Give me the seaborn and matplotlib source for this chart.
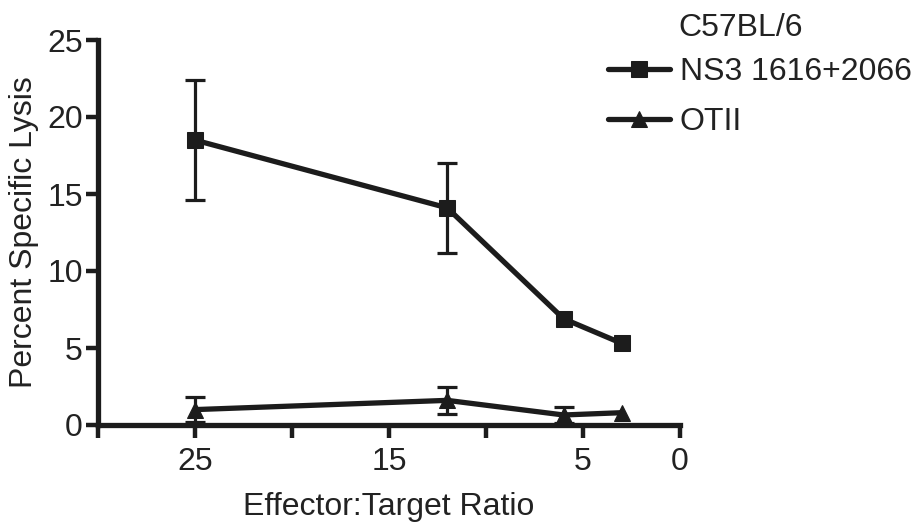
import numpy as np
import pandas as pd
import matplotlib
matplotlib.use('Agg')
import matplotlib.pyplot as plt
import seaborn as sns

# Effector:Target ratios and percent specific lysis (mean, SEM)
# (nan = error bar too small to show behind the marker)
ratios = [25, 12, 6, 3]
ns3_lysis = [18.5, 14.1, 6.9, 5.3]
ns3_err = [3.9, 2.9, np.nan, np.nan]
otii_lysis = [1.0, 1.6, 0.65, 0.8]
otii_err = [0.8, 0.9, 0.55, np.nan]
group_names = ['NS3 1616+2066', 'OTII']
legend_title = 'C57BL/6'

ink = '#1c1c1c'
txt = '#222222'
fs = 23

sns.set_theme(style='ticks')
plt.rcParams['font.family'] = ['Liberation Sans', 'DejaVu Sans']
plt.rcParams['text.color'] = txt
plt.rcParams['axes.labelcolor'] = txt
plt.rcParams['xtick.color'] = ink
plt.rcParams['ytick.color'] = ink
plt.rcParams['xtick.labelcolor'] = txt
plt.rcParams['ytick.labelcolor'] = txt

df = pd.DataFrame({
    'ratio': ratios * 2,
    'lysis': ns3_lysis + otii_lysis,
    'group': [group_names[0]] * len(ratios) + [group_names[1]] * len(ratios),
})

fig = plt.figure(figsize=(9.18, 5.25), dpi=100)
ax = fig.add_axes([98 / 918, 1 - 425 / 525, (680 - 98) / 918, (425 - 40) / 525])

sns.lineplot(data=df, x='ratio', y='lysis', hue='group', style='group',
             markers={group_names[0]: 's', group_names[1]: '^'}, dashes=False,
             palette={g: ink for g in group_names}, linewidth=3.8, markersize=12,
             markeredgecolor=ink, clip_on=False, legend=False, ax=ax, zorder=3)
line_handles = list(ax.lines[:2])

# error bars
ax.errorbar(ratios, ns3_lysis, yerr=ns3_err, fmt='none', ecolor=ink,
            elinewidth=2.3, capsize=7, capthick=2.3, clip_on=False, zorder=2)
ax.errorbar(ratios, otii_lysis, yerr=otii_err, fmt='none', ecolor=ink,
            elinewidth=2.3, capsize=7, capthick=2.3, clip_on=False, zorder=2)

ax.set_xlim(30, 0)
ax.set_ylim(0, 25)
ax.set_xticks([30, 25, 20, 15, 10, 5, 0])
ax.set_xticklabels(['', '25', '', '15', '', '5', '0'])
ax.set_yticks([0, 5, 10, 15, 20, 25])

sns.despine(ax=ax)
for side in ['left', 'bottom']:
    ax.spines[side].set_linewidth(3.8)
    ax.spines[side].set_color(ink)
ax.tick_params(axis='both', length=9, width=3.2, labelsize=fs)
ax.tick_params(axis='y', pad=2)
ax.tick_params(axis='x', pad=7)

ax.set_xlabel('Effector:Target Ratio', fontsize=fs, labelpad=11)
ax.set_ylabel('Percent Specific Lysis', fontsize=fs, labelpad=6)

fig.text(678 / 918, 1 - 28 / 525, legend_title, fontsize=fs, va='center', ha='left')
fig.legend(line_handles, group_names, loc='upper left',
           bbox_to_anchor=(608 / 918, 1 - 57 / 525), frameon=False,
           fontsize=fs, handlelength=1.95, handletextpad=0.3, labelspacing=0.62,
           borderaxespad=0, borderpad=0)

fig.savefig('out.png', dpi=100)
